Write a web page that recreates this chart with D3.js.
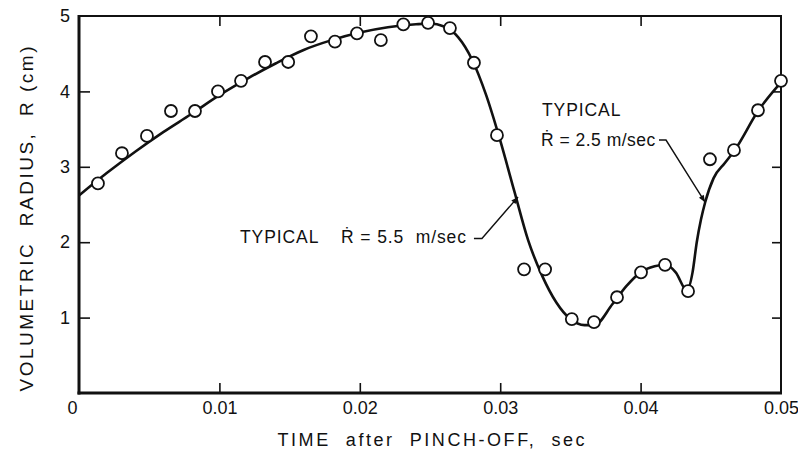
<!DOCTYPE html>
<html>
<head>
<meta charset="utf-8">
<script src="https://cdn.jsdelivr.net/npm/d3@7"></script>
<style>
  html, body { margin: 0; padding: 0; background: #fff; }
  svg { display: block; }
  text { font-family: "Liberation Sans", "DejaVu Sans", Arial, sans-serif; fill: #111; }
</style>
</head>
<body>
<script>
// ---- data ----
const xTicks = [0, 0.01, 0.02, 0.03, 0.04, 0.05];
const xTickLabels = ["0", "0.01", "0.02", "0.03", "0.04", "0.05"];
const yTicks = [1, 2, 3, 4, 5];
const yTickLabels = ["1", "2", "3", "4", "5"];

// measured points (open circles)
const obsTime = [0.00135, 0.00306, 0.00484, 0.00655, 0.00826, 0.0099, 0.01154, 0.01325, 0.0149, 0.01652,
                 0.01823, 0.0198, 0.0215, 0.0231, 0.02486, 0.02642, 0.02813, 0.02977, 0.0317, 0.0332,
                 0.0351, 0.03668, 0.03832, 0.04003, 0.04174, 0.04338, 0.04494, 0.04665, 0.04836, 0.05];
const obsRadius = [2.78, 3.18, 3.41, 3.74, 3.74, 4.0, 4.14, 4.39, 4.39, 4.73,
                   4.66, 4.77, 4.68, 4.89, 4.91, 4.84, 4.38, 3.42, 1.64, 1.64,
                   0.98, 0.94, 1.27, 1.60, 1.70, 1.35, 3.10, 3.22, 3.75, 4.14];

// fitted curve
const curveTime = [0, 0.002, 0.004, 0.006, 0.008, 0.010, 0.012, 0.014, 0.016, 0.018, 0.020, 0.022, 0.024, 0.025,
                   0.026, 0.027, 0.028, 0.029, 0.030, 0.031, 0.032, 0.033, 0.034, 0.035, 0.036, 0.0367,
                   0.038, 0.039, 0.040, 0.041, 0.0418, 0.0425, 0.0433, 0.0437, 0.0440, 0.0443, 0.0446,
                   0.0452, 0.0460, 0.0467, 0.0484, 0.050];
const curveRadius = [2.62, 2.92, 3.20, 3.46, 3.70, 3.95, 4.17, 4.37, 4.55, 4.68, 4.78, 4.85, 4.89, 4.90,
                     4.86, 4.72, 4.42, 3.95, 3.35, 2.68, 2.02, 1.55, 1.20, 0.98, 0.90, 0.90,
                     1.18, 1.42, 1.60, 1.68, 1.70, 1.60, 1.36, 1.60, 2.00, 2.30, 2.53,
                     2.85, 3.05, 3.22, 3.75, 4.12];

const annotations = [
  { line1: "TYPICAL", line2: "Ṙ = 5.5  m/sec", inline: true, spacing2: 0.9,
    textT: 0.01147, textR: 1.99, secondT: 0.01866,
    leaderT: [0.02813, 0.02870, 0.03127], leaderR: [2.05, 2.05, 2.60] },
  { line1: "TYPICAL", line2: "Ṙ = 2.5 m/sec", inline: false, spacing2: 0.5,
    textT: 0.03298, textR: 3.67, secondT: 0.03290, secondR: 3.28,
    leaderT: [0.04131, 0.04181, 0.04459], leaderR: [3.355, 3.355, 2.53] }
];

const xTitle = "TIME  after  PINCH-OFF,  sec";
const yTitle = "VOLUMETRIC  RADIUS,  R (cm)";

// ---- drawing ----
const W = 798, H = 463;
const svg = d3.select("body").append("svg").attr("width", W).attr("height", H);

const x = d3.scaleLinear().domain([0, 0.05]).range([79, 781]);
const y = d3.scaleLinear().domain([0, 5]).range([393, 16]);

svg.append("defs").append("marker")
  .attr("id", "arr").attr("viewBox", "0 0 10 10").attr("refX", 10).attr("refY", 5)
  .attr("markerWidth", 10).attr("markerHeight", 7).attr("markerUnits", "userSpaceOnUse")
  .attr("orient", "auto")
  .append("path").attr("d", "M0,1 L10,5 L0,9 Z").attr("fill", "#111");

// axes (ticks inward)
const gB = svg.append("g").attr("transform", `translate(0,${y(0)})`)
  .call(d3.axisBottom(x).tickValues(xTicks).tickSize(-10).tickPadding(8)
    .tickFormat((d, i) => xTickLabels[i]));
const gL = svg.append("g").attr("transform", `translate(${x(0)},0)`)
  .call(d3.axisLeft(y).tickValues(yTicks).tickSize(-11).tickPadding(9)
    .tickFormat((d, i) => yTickLabels[i]));
const gT = svg.append("g").attr("transform", `translate(0,${y(5)})`)
  .call(d3.axisTop(x).tickValues(xTicks.slice(1, -1)).tickSize(-10).tickFormat(""));
const gR = svg.append("g").attr("transform", `translate(${x(0.05)},0)`)
  .call(d3.axisRight(y).tickValues(yTicks.slice(0, -1)).tickSize(-9).tickFormat(""));

[gB, gL, gT, gR].forEach(g => {
  g.select(".domain").remove();
  g.selectAll(".tick line").attr("stroke", "#111").attr("stroke-width", 1.6);
  g.selectAll(".tick text").attr("font-size", 18).attr("fill", "#111")
    .style("font-family", "'Liberation Sans', 'DejaVu Sans', sans-serif");
});
gB.selectAll(".tick").filter(d => d === 0 || d === 0.05).select("line").remove();
gB.selectAll(".tick").filter(d => d === 0).select("text").attr("dx", -7);
gL.selectAll(".tick").filter(d => d === 5).select("line").remove();

// frame
const frame = svg.append("g").attr("stroke", "#111").attr("fill", "none");
frame.append("line").attr("x1", x(0)).attr("x2", x(0)).attr("y1", y(5) - 1).attr("y2", y(0) + 1.5).attr("stroke-width", 3);
frame.append("line").attr("x1", x(0) - 1.5).attr("x2", x(0.05) + 1).attr("y1", y(0)).attr("y2", y(0)).attr("stroke-width", 3);
frame.append("line").attr("x1", x(0)).attr("x2", x(0.05) + 1).attr("y1", y(5)).attr("y2", y(5)).attr("stroke-width", 2);
frame.append("line").attr("x1", x(0.05)).attr("x2", x(0.05)).attr("y1", y(5)).attr("y2", y(0)).attr("stroke-width", 2);

// curve
const curveData = curveTime.map((t, i) => [t, curveRadius[i]]);
svg.append("path").datum(curveData)
  .attr("fill", "none").attr("stroke", "#111").attr("stroke-width", 2.6)
  .attr("stroke-linejoin", "round")
  .attr("d", d3.line().x(d => x(d[0])).y(d => y(d[1])).curve(d3.curveMonotoneX));

// points
const obsData = obsTime.map((t, i) => [t, obsRadius[i]]);
svg.append("g").selectAll("circle").data(obsData).join("circle")
  .attr("cx", d => x(d[0])).attr("cy", d => y(d[1])).attr("r", 6)
  .attr("fill", "#fff").attr("stroke", "#111").attr("stroke-width", 1.8);

// annotations
annotations.forEach(a => {
  const g = svg.append("g");
  g.append("text").attr("x", x(a.textT)).attr("y", y(a.textR))
    .attr("font-size", 17.5).attr("letter-spacing", 0.9).text(a.line1);
  g.append("text").attr("x", x(a.secondT))
    .attr("y", a.inline ? y(a.textR) : y(a.secondR))
    .attr("font-size", 17.5).attr("letter-spacing", a.spacing2)
    .style("white-space", "pre").text(a.line2);
  const pts = a.leaderT.map((t, i) => [x(t), y(a.leaderR[i])]);
  g.append("path")
    .attr("d", d3.line().curve(d3.curveLinear)(pts))
    .attr("fill", "none").attr("stroke", "#111").attr("stroke-width", 1.4)
    .attr("marker-end", "url(#arr)");
});

// axis titles
svg.append("text").attr("x", 431).attr("y", 446).attr("text-anchor", "middle")
  .attr("font-size", 18).attr("textLength", 307).attr("lengthAdjust", "spacing")
  .style("white-space", "pre").text(xTitle);
svg.append("text").attr("transform", "translate(33,219) rotate(-90)").attr("text-anchor", "middle")
  .attr("font-size", 19).attr("textLength", 345).attr("lengthAdjust", "spacing")
  .style("white-space", "pre").text(yTitle);
</script>
</body>
</html>
